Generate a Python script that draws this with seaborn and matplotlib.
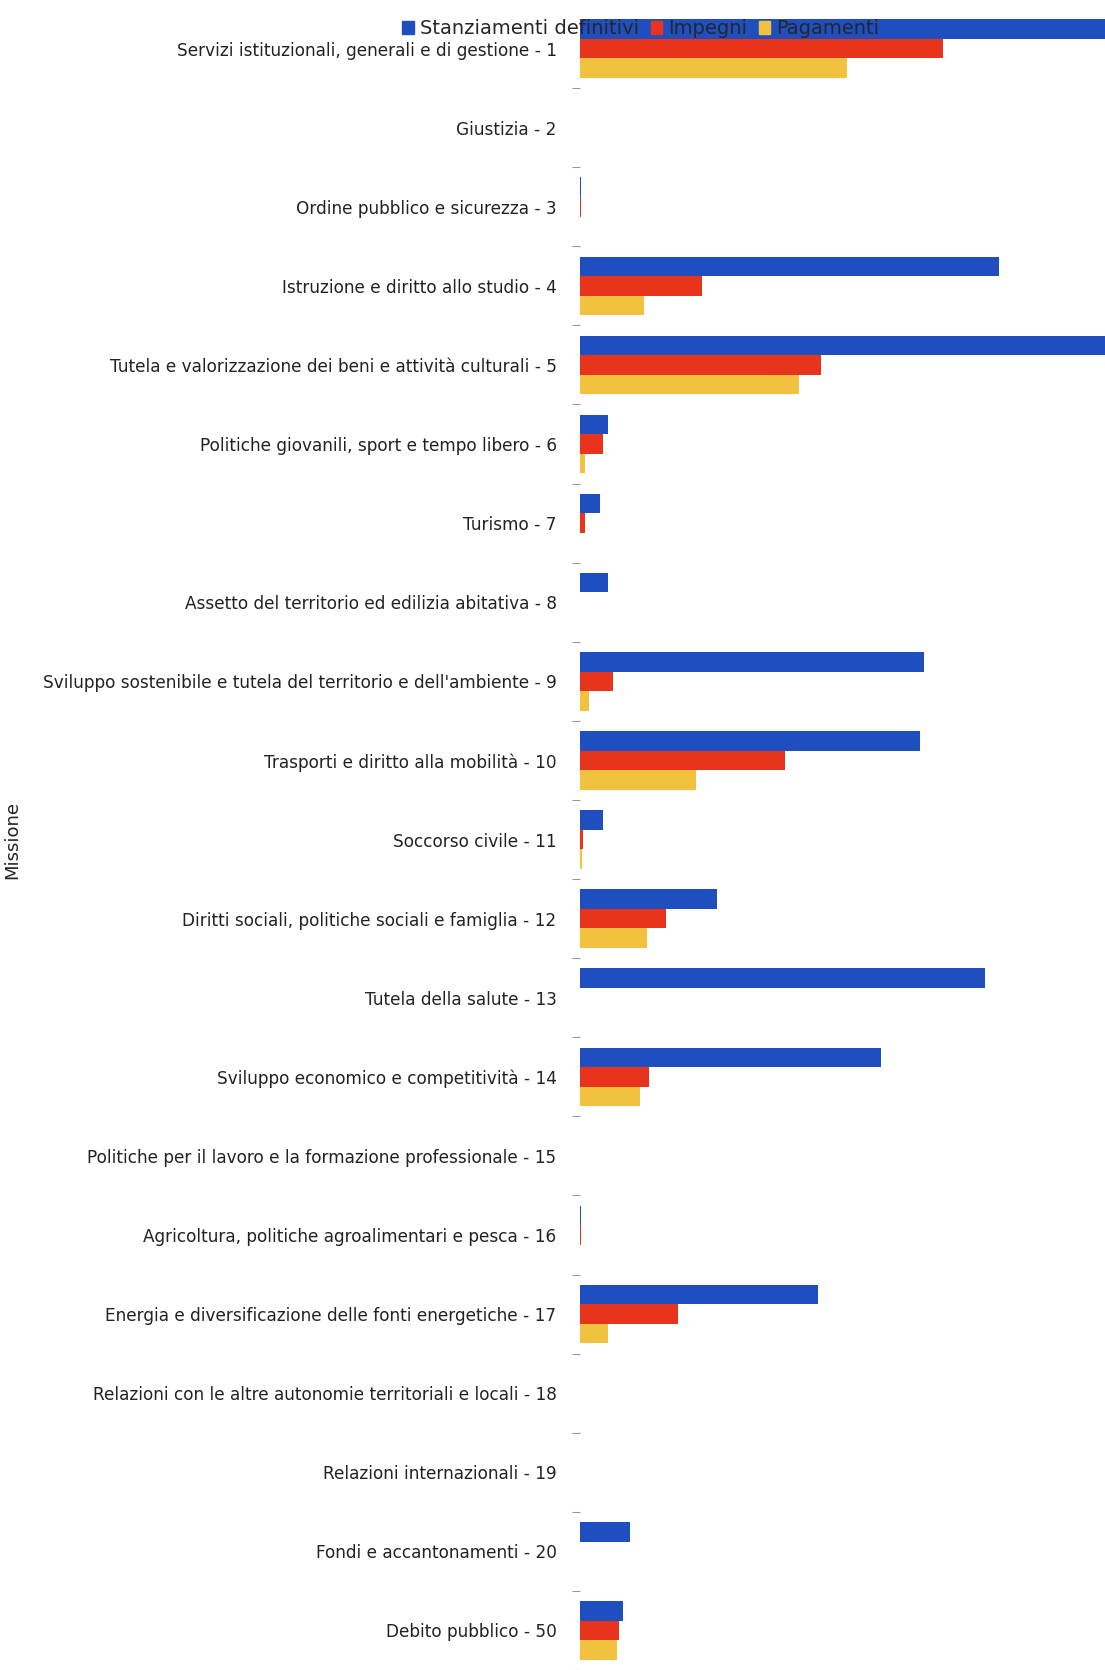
import numpy as np
import pandas as pd
import matplotlib
matplotlib.use('Agg')
import matplotlib.pyplot as plt
import seaborn as sns

missioni = [
    'Servizi istituzionali, generali e di gestione - 1',
    'Giustizia - 2',
    'Ordine pubblico e sicurezza - 3',
    'Istruzione e diritto allo studio - 4',
    'Tutela e valorizzazione dei beni e attività culturali - 5',
    'Politiche giovanili, sport e tempo libero - 6',
    'Turismo - 7',
    'Assetto del territorio ed edilizia abitativa - 8',
    "Sviluppo sostenibile e tutela del territorio e dell'ambiente - 9",
    'Trasporti e diritto alla mobilità - 10',
    'Soccorso civile - 11',
    'Diritti sociali, politiche sociali e famiglia - 12',
    'Tutela della salute - 13',
    'Sviluppo economico e competitività - 14',
    'Politiche per il lavoro e la formazione professionale - 15',
    'Agricoltura, politiche agroalimentari e pesca - 16',
    'Energia e diversificazione delle fonti energetiche - 17',
    'Relazioni con le altre autonomie territoriali e locali - 18',
    'Relazioni internazionali - 19',
    'Fondi e accantonamenti - 20',
    'Debito pubblico - 50',
]

serie = ['Stanziamenti definitivi', 'Impegni', 'Pagamenti']

stanziamenti = [600, 0, 1.2, 395, 600, 26, 19, 26, 324, 321, 22, 129, 382, 284, 0, 1.2, 224, 0, 0, 47, 40]
impegni      = [342, 0, 1.2, 115, 227, 22, 5, 0, 31, 193, 3, 81, 0, 65, 0, 1.2, 92, 0, 0, 0, 37]
pagamenti    = [252, 0, 0, 60, 206, 5, 0, 0, 8, 109, 2, 63, 0, 56, 0, 0, 26, 0, 0, 0, 35]

colori = ['#1f4fbf', '#e8341c', '#f2c23e']

df = pd.DataFrame({
    'Missione': missioni * 3,
    'Serie': np.repeat(serie, len(missioni)),
    'Valore': stanziamenti + impegni + pagamenti,
})

sns.set_style('white')
plt.rcParams['font.family'] = ['DejaVu Sans']

fig = plt.figure(figsize=(11.05, 16.70), dpi=100)
ax = fig.add_axes([0.525, 0.0, 0.475, 0.9946])

sns.barplot(data=df, y='Missione', x='Valore', hue='Serie', palette=colori,
            orient='h', width=0.74, saturation=1, linewidth=0, ax=ax, legend=False)

ax.set_xlim(0, 495)
ax.set_ylim(20.42, -0.5)
ax.set_xticks([])
ax.set_xlabel('')
ax.set_ylabel('Missione', fontsize=13, color='#222222')
ax.yaxis.set_label_coords(-1.065, 0.5)
for s in ax.spines.values():
    s.set_visible(False)

ax.tick_params(axis='y', which='major', length=0, pad=17, labelsize=12.2, labelcolor='#222222')
ax.set_yticks(np.arange(len(missioni)) + 0.5, minor=True)
ax.tick_params(axis='y', which='minor', left=True, length=6, width=0.8, color='#999999')

handles = [plt.Rectangle((0, 0), 1, 1, color=c) for c in colori]
fig.legend(handles, serie, loc='center', bbox_to_anchor=(0.58, 1 - 29 / 1670), ncol=3,
           frameon=False, fontsize=14, handlelength=0.6, handleheight=0.6,
           handletextpad=0.3, columnspacing=0.6)

fig.savefig('out.png', dpi=100)
